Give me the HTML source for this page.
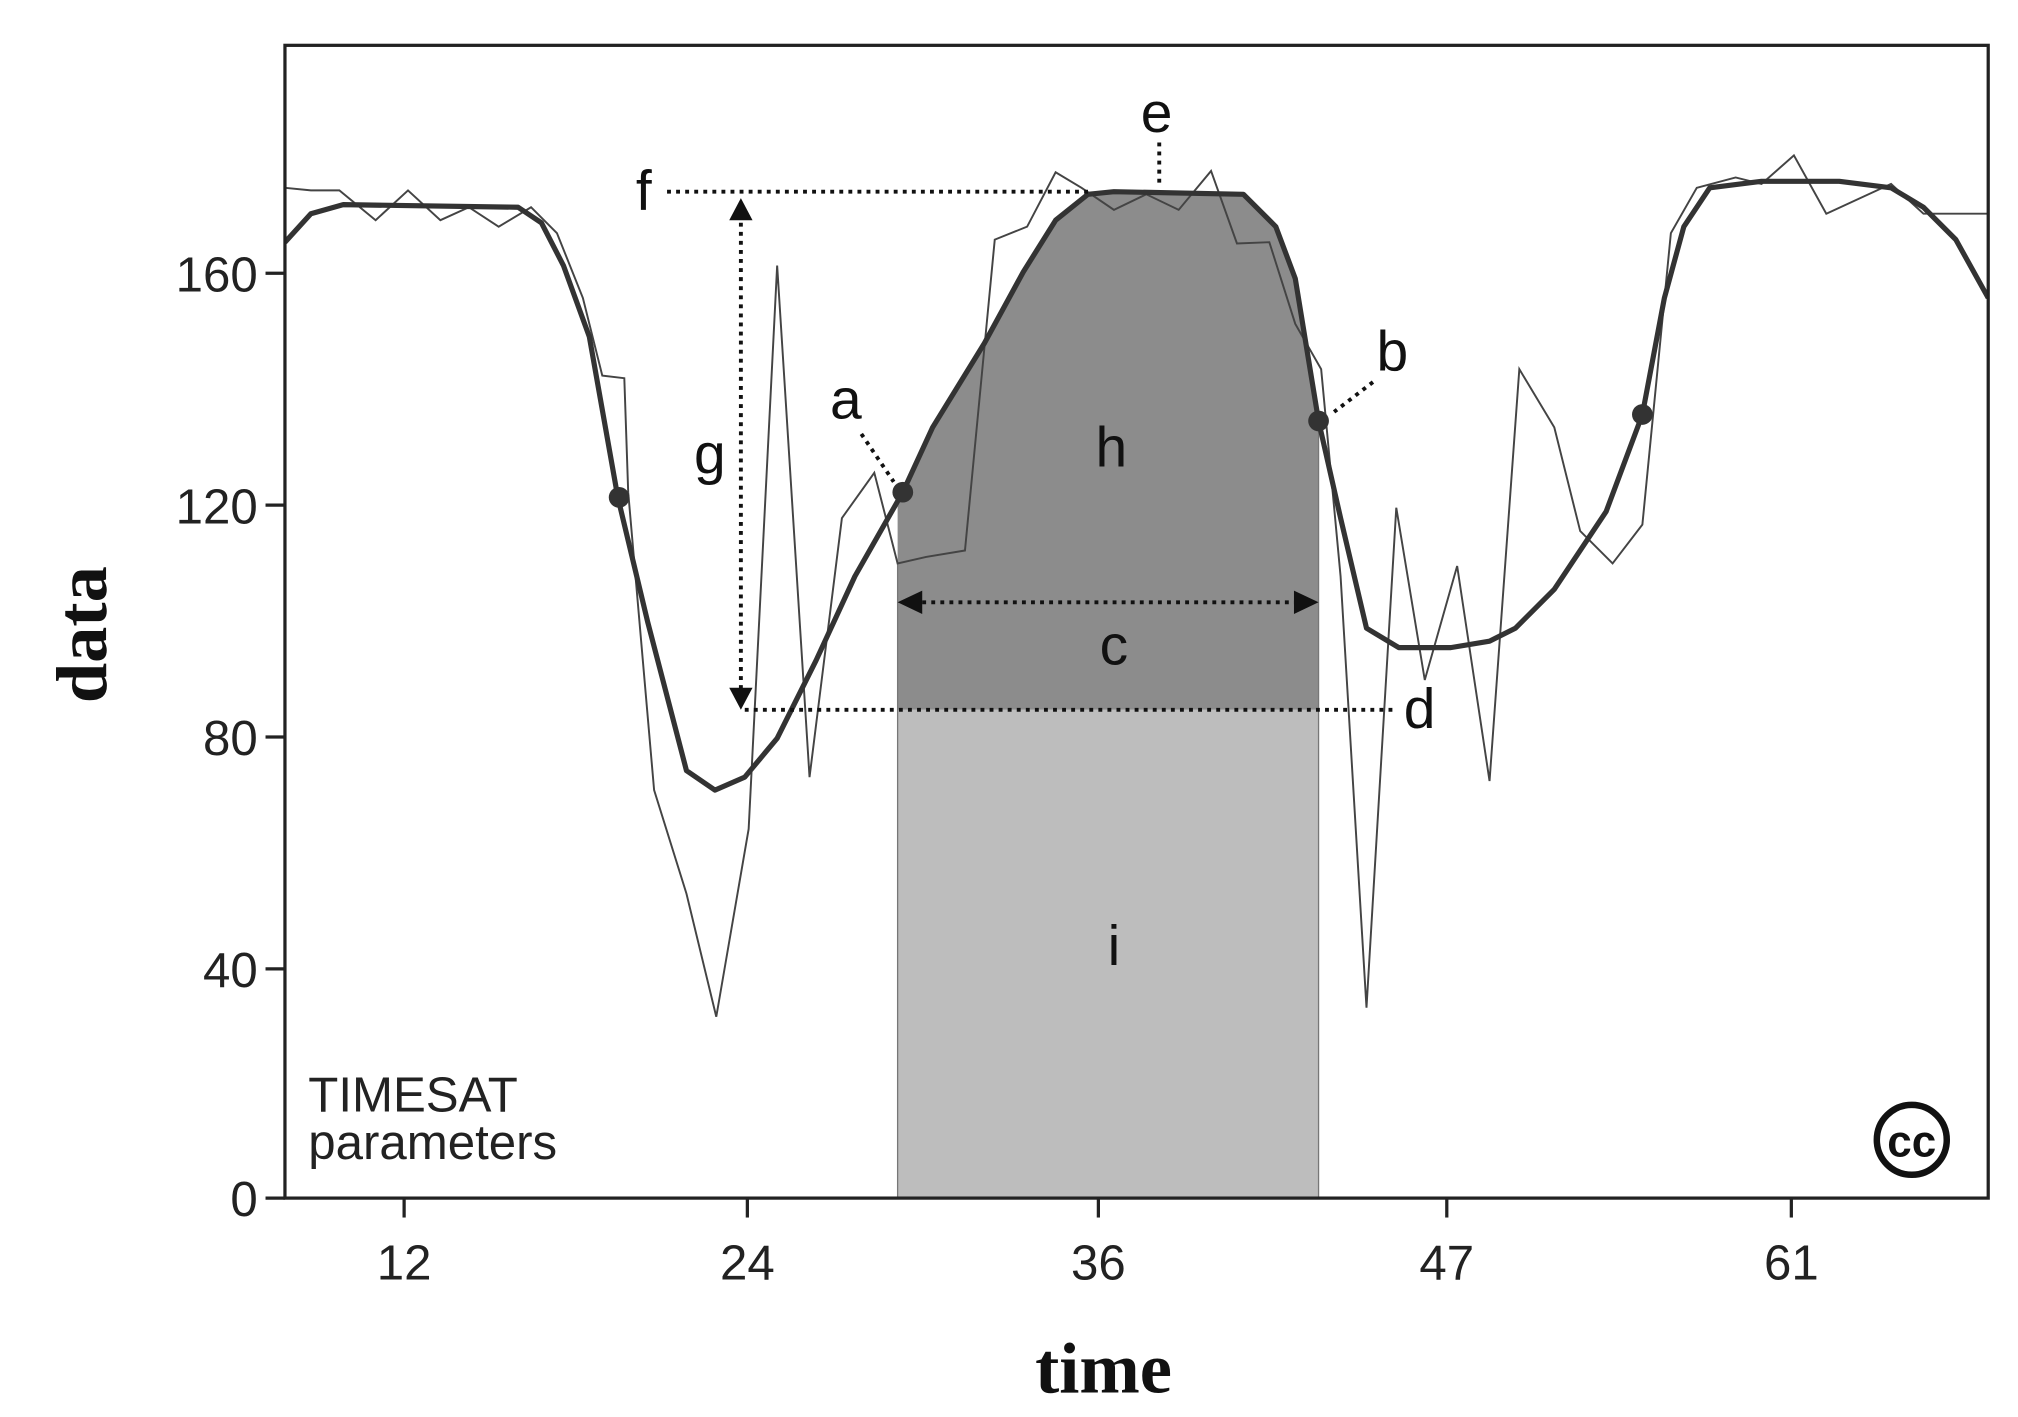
<!DOCTYPE html>
<html><head><meta charset="utf-8"><style>html,body{margin:0;padding:0;background:#fff}svg{display:block}</style></head>
<body>
<svg width="2018" height="1417" viewBox="0 0 1558 1094" preserveAspectRatio="none" xmlns="http://www.w3.org/2000/svg">
<defs><clipPath id="pc"><rect x="220" y="35" width="1315" height="890"/></clipPath>
<clipPath id="sh"><rect x="693" y="0" width="325" height="925"/></clipPath></defs>
<rect x="693" y="548" width="325" height="377" fill="#bdbdbd"/>
<g clip-path="url(#sh)">
<polygon fill="#8c8c8c" points="660,445 697,380 720,330 760,265 790,210 815,170 840,150 860,148 960,150 985,175 1000,215 1018,325 1035,400 1035,548 660,548"/>
</g>
<line x1="693" y1="435" x2="693" y2="925" stroke="#777" stroke-width="1"/>
<line x1="1018" y1="325" x2="1018" y2="925" stroke="#777" stroke-width="1"/>
<g clip-path="url(#pc)">
<polyline fill="none" stroke="#444" stroke-width="1.5" points="220,145 240,147 262,147 290,170 315,147 340,170 362,160 385,175 410,160 430,180 450,230 465,290 482,292 485,380 505,610 530,690 553,785 578,640 600,205 625,600 650,400 675,365 693,435 715,430 745,425 768,185 793,175 815,133 835,145 860,162 885,150 910,162 935,132 955,188 980,187 1000,250 1020,285 1035,445 1055,778 1078,392 1100,525 1125,437 1150,603 1173,285 1200,330 1220,410 1245,435 1268,405 1290,180 1310,145 1340,137 1360,142 1385,120 1410,165 1460,142 1485,165 1535,165"/>
<polyline fill="none" stroke="#333" stroke-width="4" stroke-linejoin="round" points="220,187 240,165 265,158 400,160 418,172 435,205 455,260 477,384 500,480 530,595 552,610 575,600 600,570 630,510 660,445 697,380 720,330 760,265 790,210 815,170 840,150 860,148 960,150 985,175 1000,215 1018,325 1035,400 1055,485 1080,500 1120,500 1150,495 1170,485 1200,455 1240,395 1268,320 1285,230 1300,175 1320,145 1360,140 1420,140 1460,145 1485,160 1510,185 1535,230"/>
</g>
<g fill="#333"><circle cx="478" cy="384" r="8"/><circle cx="697" cy="380" r="8"/><circle cx="1018" cy="325" r="8"/><circle cx="1268" cy="320" r="8"/></g>
<g stroke="#111" stroke-width="3" stroke-dasharray="3,4" fill="none">
<line x1="515" y1="148" x2="840" y2="148"/>
<line x1="572" y1="165" x2="572" y2="535"/>
<line x1="575" y1="548" x2="1075" y2="548"/>
<line x1="705" y1="465" x2="1006" y2="465"/>
<line x1="895" y1="110" x2="895" y2="145"/>
<line x1="665" y1="335" x2="690" y2="372"/>
<line x1="1060" y1="295" x2="1030" y2="318"/>
</g>
<g fill="#111">
<polygon points="572,153 563,170 581,170"/><polygon points="572,548 563,531 581,531"/>
<polygon points="693,465 712,456 712,474"/><polygon points="1018,465 999,456 999,474"/>
</g>
<rect x="220" y="35" width="1315" height="890" fill="none" stroke="#222" stroke-width="2.5"/>
<g stroke="#222" stroke-width="2.5">
<line x1="205" y1="211" x2="220" y2="211"/><line x1="205" y1="390" x2="220" y2="390"/><line x1="205" y1="569" x2="220" y2="569"/><line x1="205" y1="748" x2="220" y2="748"/><line x1="205" y1="925" x2="220" y2="925"/>
<line x1="312" y1="925" x2="312" y2="940"/><line x1="577" y1="925" x2="577" y2="940"/><line x1="848" y1="925" x2="848" y2="940"/><line x1="1117" y1="925" x2="1117" y2="940"/><line x1="1383" y1="925" x2="1383" y2="940"/>
</g>
<g font-family="Liberation Sans, sans-serif" font-size="38" fill="#222" text-anchor="end">
<text x="199" y="225">160</text><text x="199" y="404">120</text><text x="199" y="583">80</text><text x="199" y="762">40</text><text x="199" y="939">0</text>
</g>
<g font-family="Liberation Sans, sans-serif" font-size="38" fill="#222" text-anchor="middle">
<text x="312" y="988">12</text><text x="577" y="988">24</text><text x="848" y="988">36</text><text x="1117" y="988">47</text><text x="1383" y="988">61</text>
</g>
<g font-family="Liberation Sans, sans-serif" font-size="44" fill="#111" text-anchor="middle">
<text x="497" y="162">f</text><text x="548" y="365">g</text><text x="1096" y="562">d</text><text x="860" y="513">c</text>
<text x="893" y="102">e</text><text x="653" y="323">a</text><text x="1075" y="286">b</text><text x="858" y="360">h</text><text x="860" y="745">i</text>
</g>
<g font-family="Liberation Sans, sans-serif" font-size="38" fill="#222">
<text x="238" y="858">TIMESAT</text><text x="238" y="895">parameters</text>
</g>
<circle cx="1476" cy="880" r="27" fill="none" stroke="#111" stroke-width="5"/>
<text x="1476" y="893" text-anchor="middle" font-family="Liberation Sans, sans-serif" font-weight="bold" font-size="34" fill="#111">cc</text>
<text x="852" y="1075" text-anchor="middle" font-family="Liberation Serif, serif" font-weight="bold" font-size="56" fill="#111">time</text>
<text transform="translate(82,490) rotate(-90)" text-anchor="middle" font-family="Liberation Serif, serif" font-weight="bold" font-size="56" fill="#111">data</text>
</svg>
</body></html>
